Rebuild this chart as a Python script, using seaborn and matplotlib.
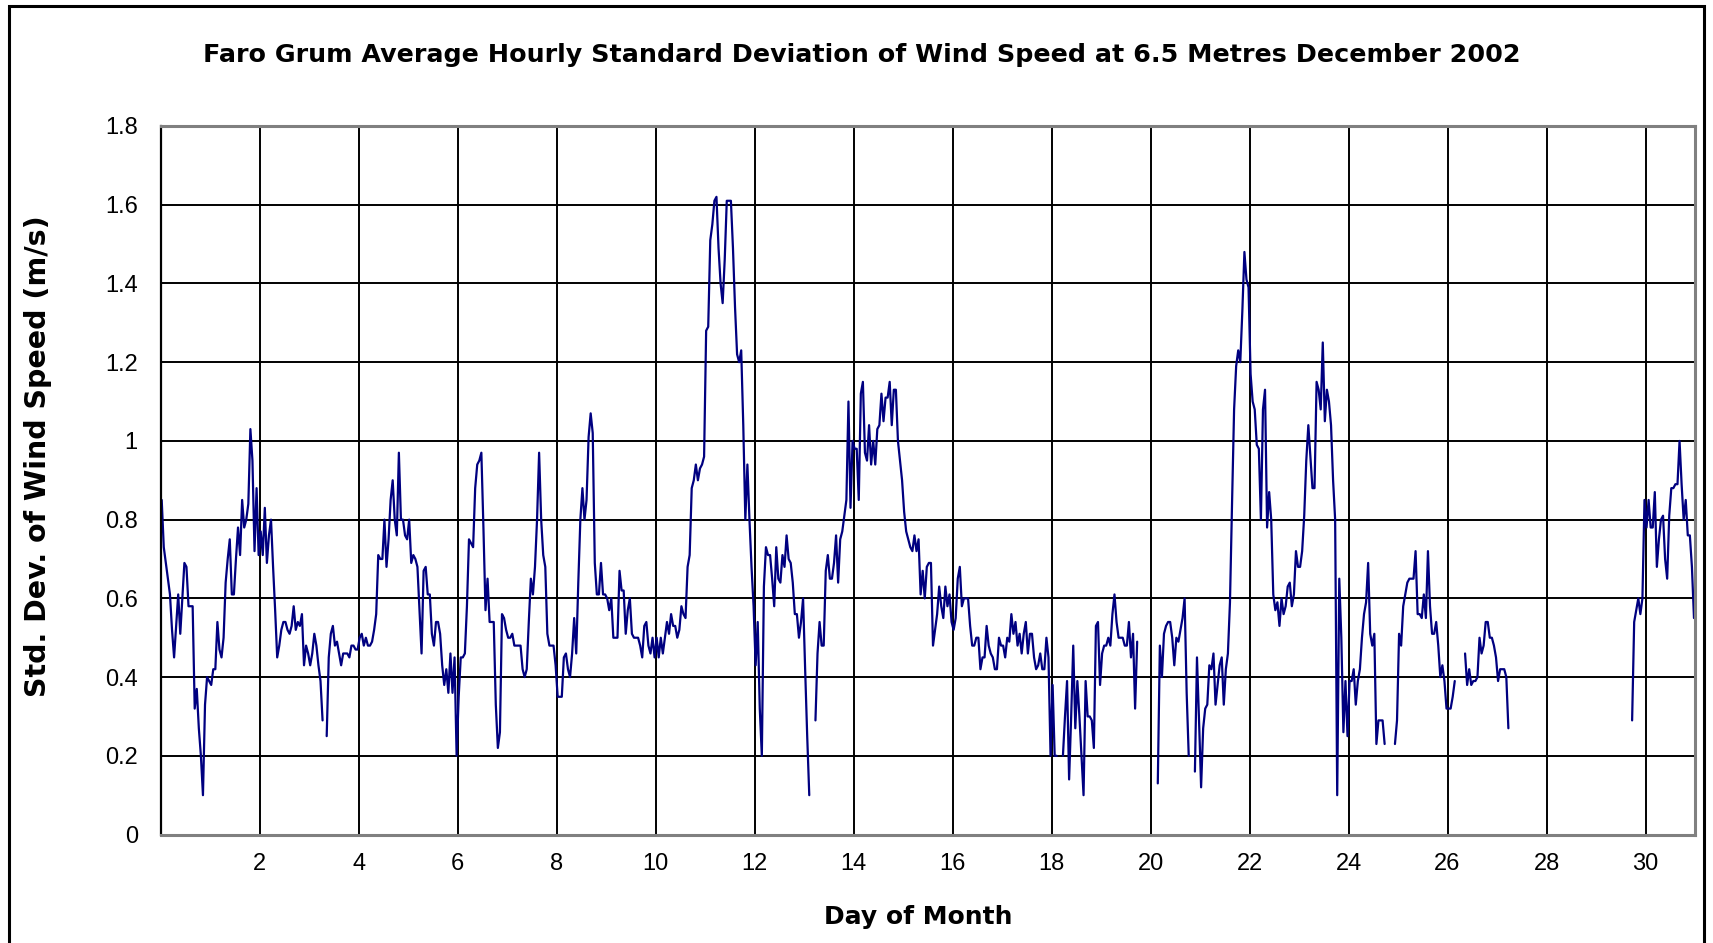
import numpy as np
import pandas as pd
import matplotlib
matplotlib.use('Agg')
import matplotlib.pyplot as plt
import seaborn as sns
from matplotlib.patches import Rectangle

nan = np.nan

# hourly std. dev. of wind speed (m/s), 24 values per day
d01 = [0.85, 0.73, 0.69, 0.65, 0.61, 0.52, 0.45, 0.53, 0.61, 0.51, 0.60, 0.69, 0.68, 0.58, 0.58, 0.58, 0.32, 0.37, 0.27, 0.20, 0.10, 0.33, 0.40, 0.39]
d02 = [0.38, 0.42, 0.42, 0.54, 0.47, 0.45, 0.50, 0.64, 0.70, 0.75, 0.61, 0.61, 0.70, 0.78, 0.71, 0.85, 0.78, 0.80, 0.84, 1.03, 0.95, 0.72, 0.88, 0.71]
d03 = [0.77, 0.71, 0.83, 0.69, 0.76, 0.80, 0.68, 0.57, 0.45, 0.48, 0.52, 0.54, 0.54, 0.52, 0.51, 0.53, 0.58, 0.52, 0.54, 0.53, 0.56, 0.43, 0.48, 0.46]
d04 = [0.43, 0.46, 0.51, 0.48, 0.43, 0.39, 0.29, nan, 0.25, 0.45, 0.51, 0.53, 0.48, 0.49, 0.46, 0.43, 0.46, 0.46, 0.46, 0.45, 0.48, 0.48, 0.47, 0.47]
d05 = [0.50, 0.51, 0.48, 0.50, 0.48, 0.48, 0.49, 0.52, 0.56, 0.71, 0.70, 0.70, 0.80, 0.68, 0.75, 0.85, 0.90, 0.80, 0.76, 0.97, 0.80, 0.80, 0.76, 0.75]
d06 = [0.80, 0.69, 0.71, 0.70, 0.68, 0.57, 0.46, 0.67, 0.68, 0.61, 0.61, 0.51, 0.48, 0.54, 0.54, 0.51, 0.43, 0.38, 0.42, 0.36, 0.46, 0.36, 0.45, 0.20]
d07 = [0.35, 0.45, 0.45, 0.46, 0.58, 0.75, 0.74, 0.73, 0.88, 0.94, 0.95, 0.97, 0.78, 0.57, 0.65, 0.54, 0.54, 0.54, 0.33, 0.22, 0.26, 0.56, 0.55, 0.52]
d08 = [0.50, 0.50, 0.51, 0.48, 0.48, 0.48, 0.48, 0.42, 0.40, 0.42, 0.54, 0.65, 0.61, 0.68, 0.80, 0.97, 0.80, 0.71, 0.68, 0.51, 0.48, 0.48, 0.48, 0.43]
d09 = [0.35, 0.35, 0.35, 0.45, 0.46, 0.42, 0.40, 0.46, 0.55, 0.46, 0.64, 0.80, 0.88, 0.80, 0.85, 1.01, 1.07, 1.02, 0.69, 0.61, 0.61, 0.69, 0.61, 0.61]
d10 = [0.60, 0.57, 0.60, 0.50, 0.50, 0.50, 0.67, 0.62, 0.62, 0.51, 0.57, 0.60, 0.51, 0.50, 0.50, 0.50, 0.48, 0.45, 0.53, 0.54, 0.48, 0.46, 0.50, 0.45]
d11 = [0.50, 0.45, 0.50, 0.46, 0.50, 0.54, 0.51, 0.56, 0.53, 0.53, 0.50, 0.52, 0.58, 0.56, 0.55, 0.68, 0.71, 0.88, 0.90, 0.94, 0.90, 0.93, 0.94, 0.96]
d12 = [1.28, 1.29, 1.51, 1.55, 1.61, 1.62, 1.49, 1.40, 1.35, 1.46, 1.61, 1.61, 1.61, 1.49, 1.34, 1.22, 1.20, 1.23, 1.04, 0.80, 0.94, 0.80, 0.68, 0.58]
d13 = [0.43, 0.54, 0.32, 0.20, 0.63, 0.73, 0.71, 0.71, 0.65, 0.58, 0.73, 0.65, 0.64, 0.71, 0.68, 0.76, 0.70, 0.69, 0.64, 0.56, 0.56, 0.50, 0.54, 0.60]
d14 = [0.42, 0.25, 0.10, nan, nan, 0.29, 0.46, 0.54, 0.48, 0.48, 0.67, 0.71, 0.65, 0.65, 0.69, 0.76, 0.64, 0.75, 0.77, 0.81, 0.85, 1.10, 0.83, 1.00]
d15 = [0.98, 0.98, 0.85, 1.12, 1.15, 0.97, 0.95, 1.04, 0.94, 1.00, 0.94, 1.03, 1.04, 1.12, 1.05, 1.11, 1.11, 1.15, 1.04, 1.13, 1.13, 1.00, 0.95, 0.90]
d16 = [0.82, 0.77, 0.75, 0.73, 0.72, 0.76, 0.72, 0.75, 0.61, 0.67, 0.60, 0.68, 0.69, 0.69, 0.48, 0.52, 0.56, 0.63, 0.58, 0.55, 0.63, 0.58, 0.61, 0.54]
d17 = [0.52, 0.55, 0.65, 0.68, 0.58, 0.60, 0.60, 0.60, 0.53, 0.48, 0.48, 0.50, 0.50, 0.42, 0.45, 0.45, 0.53, 0.48, 0.46, 0.45, 0.42, 0.42, 0.50, 0.48]
d18 = [0.48, 0.45, 0.50, 0.49, 0.56, 0.51, 0.54, 0.48, 0.51, 0.46, 0.51, 0.54, 0.46, 0.51, 0.51, 0.45, 0.42, 0.43, 0.46, 0.42, 0.42, 0.50, 0.45, 0.20]
d19 = [0.38, 0.20, 0.20, nan, nan, 0.20, 0.30, 0.39, 0.14, 0.30, 0.48, 0.27, 0.39, 0.30, 0.20, 0.10, 0.39, 0.30, 0.30, 0.29, 0.22, 0.53, 0.54, 0.38]
d20 = [0.46, 0.48, 0.48, 0.50, 0.48, 0.56, 0.61, 0.54, 0.50, 0.50, 0.50, 0.48, 0.48, 0.54, 0.45, 0.51, 0.32, 0.49, nan, nan, nan, nan, nan, nan]
d21 = [nan, nan, nan, 0.13, 0.48, 0.40, 0.51, 0.53, 0.54, 0.54, 0.50, 0.43, 0.50, 0.49, 0.52, 0.55, 0.60, 0.36, 0.20, nan, nan, 0.16, 0.45, 0.29]
d22 = [0.12, 0.27, 0.32, 0.33, 0.43, 0.42, 0.46, 0.33, 0.38, 0.43, 0.45, 0.33, 0.42, 0.46, 0.59, 0.84, 1.08, 1.19, 1.23, 1.20, 1.33, 1.48, 1.41, 1.39]
d23 = [1.17, 1.10, 1.08, 0.99, 0.98, 0.80, 1.08, 1.13, 0.78, 0.87, 0.80, 0.61, 0.57, 0.59, 0.53, 0.60, 0.56, 0.58, 0.63, 0.64, 0.58, 0.61, 0.72, 0.68]
d24 = [0.68, 0.72, 0.81, 0.95, 1.04, 0.96, 0.88, 0.88, 1.15, 1.13, 1.08, 1.25, 1.05, 1.13, 1.10, 1.04, 0.90, 0.80, 0.10, 0.65, 0.50, 0.26, 0.39, 0.25]
d25 = [0.39, 0.39, 0.42, 0.33, 0.39, 0.42, 0.50, 0.56, 0.59, 0.69, 0.51, 0.48, 0.51, 0.23, 0.29, 0.29, 0.29, 0.23, nan, nan, nan, nan, 0.23, 0.29]
d26 = [0.51, 0.48, 0.58, 0.61, 0.64, 0.65, 0.65, 0.65, 0.72, 0.56, 0.56, 0.55, 0.61, 0.55, 0.72, 0.58, 0.51, 0.51, 0.54, 0.48, 0.40, 0.43, 0.39, 0.32]
d27 = [0.32, 0.32, 0.35, 0.39, nan, nan, nan, nan, 0.46, 0.38, 0.42, 0.38, 0.39, 0.39, 0.40, 0.50, 0.46, 0.48, 0.54, 0.54, 0.50, 0.50, 0.48, 0.45]
d28 = [0.39, 0.42, 0.42, 0.42, 0.40, 0.27] + [nan] * 18
d29 = [nan] * 24
d30 = [nan] * 17 + [0.29, 0.54, 0.57, 0.60, 0.56, 0.60, 0.85]
d31 = [0.78, 0.85, 0.78, 0.78, 0.87, 0.68, 0.75, 0.80, 0.81, 0.70, 0.65, 0.81, 0.88, 0.88, 0.89, 0.89, 1.00, 0.89, 0.80, 0.85, 0.76, 0.76, 0.68, 0.55]

days = [d01, d02, d03, d04, d05, d06, d07, d08, d09, d10, d11, d12, d13, d14, d15, d16,
        d17, d18, d19, d20, d21, d22, d23, d24, d25, d26, d27, d28, d29, d30, d31]
for i, d in enumerate(days):
    assert len(d) == 24, (i + 1, len(d))

sd = np.array(sum(days, []), dtype=float)
hour = np.arange(len(sd))
day = (hour + 0.5) / 24.0

# split into unbroken runs so missing hours leave gaps
seg = np.cumsum(np.isnan(sd))
df = pd.DataFrame({'day': day, 'sd': sd, 'seg': seg})
df = df[~np.isnan(sd)]

sns.set_style('white')
plt.rcParams['font.family'] = ['Liberation Sans', 'DejaVu Sans']
plt.rcParams['text.color'] = 'black'

fig = plt.figure(figsize=(17.13, 9.43), dpi=100)
ax = fig.add_axes([0.0938, 0.1150, 0.8957, 0.7514])

sns.lineplot(data=df, x='day', y='sd', units='seg', estimator=None, sort=False,
             color='#000080', linewidth=1.6, ax=ax, legend=False)

ax.set_xlim(0, 31)
ax.set_ylim(0, 1.8)
ax.set_xticks(range(2, 31, 2))
yt = np.round(np.arange(0, 1.81, 0.2), 1)
ax.set_yticks(yt)
ax.set_yticklabels(['%g' % v for v in yt])

ax.grid(True, color='black', linewidth=1.4)
ax.set_axisbelow(True)
for side in ['top', 'right', 'bottom']:
    ax.spines[side].set_color('#808080')
    ax.spines[side].set_linewidth(2.2)
ax.spines['left'].set_color('black')
ax.spines['left'].set_linewidth(1.6)

ax.tick_params(axis='y', direction='out', length=6.5, width=1.3, color='black',
               labelcolor='black', labelsize=17, pad=10)
ax.tick_params(axis='x', length=0, labelcolor='black', labelsize=17, pad=13)
ax.set_xlabel('')
ax.set_ylabel('')

# the original labels are widely tracked, so a wider face is used for them
wide = ['DejaVu Sans']
fig.text(0.503, 0.934, 'Faro Grum Average Hourly Standard Deviation of Wind Speed at 6.5 Metres December 2002',
         ha='center', va='baseline', fontsize=18.3, fontweight='bold', family=wide, color='black')
fig.text(0.536, 0.028, 'Day of Month', ha='center', va='center', fontsize=18, fontweight='bold',
         family=wide, color='black')
fig.text(0.022, 0.516, 'Std. Dev. of Wind Speed (m/s)', ha='center', va='center',
         rotation=90, fontsize=20.5, fontweight='bold', family=wide, color='black')

fig.patches.append(Rectangle((9 / 1713, -0.05), (1704 - 9) / 1713, 1.05 - 5.5 / 943,
                             transform=fig.transFigure, fill=False, ec='black', lw=2.2))

fig.savefig('out.png', dpi=100, facecolor='white')
